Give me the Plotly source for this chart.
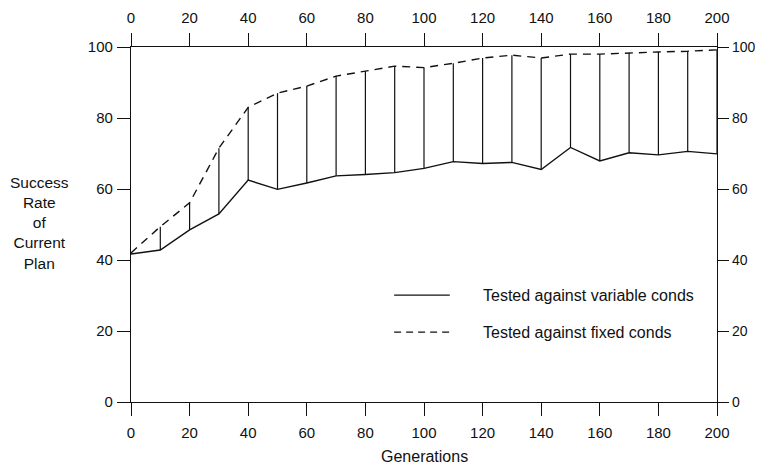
import plotly.graph_objects as go

generations = [0, 10, 20, 30, 40, 50, 60, 70, 80, 90, 100, 110, 120, 130, 140, 150, 160, 170, 180, 190, 200]
variable_conds = [41.7, 42.8, 48.5, 53.0, 62.5, 59.9, 61.7, 63.7, 64.1, 64.6, 65.8, 67.7, 67.2, 67.5, 65.5, 71.7, 67.9, 70.2, 69.6, 70.6, 69.9]
fixed_conds = [42.0, 49.4, 56.1, 71.5, 83.0, 87.0, 89.0, 91.8, 93.2, 94.6, 94.2, 95.4, 96.9, 97.7, 96.9, 98.0, 98.0, 98.4, 98.6, 98.8, 99.2]
x_ticks = [0, 20, 40, 60, 80, 100, 120, 140, 160, 180, 200]
y_ticks = [0, 20, 40, 60, 80, 100]
legend_labels = ["Tested against variable conds", "Tested against fixed conds"]

FONT = "Liberation Sans, Arial, Helvetica, sans-serif"
INK = "#111111"

fig = go.Figure()

# vertical connectors between the two series
vx, vy = [], []
for g, a, b in zip(generations, variable_conds, fixed_conds):
    vx += [g, g, None]
    vy += [a, b, None]
fig.add_trace(go.Scatter(x=vx, y=vy, mode="lines", line=dict(color=INK, width=1.2),
                         showlegend=False, hoverinfo="skip"))

fig.add_trace(go.Scatter(x=generations, y=variable_conds, mode="lines",
                         line=dict(color=INK, width=1.4), name=legend_labels[0], showlegend=False))
fig.add_trace(go.Scatter(x=generations, y=fixed_conds, mode="lines",
                         line=dict(color=INK, width=1.4, dash="8px,6px"), name=legend_labels[1], showlegend=False))
# invisible trace to activate top/right axes
fig.add_trace(go.Scatter(x=[generations[0]], y=[y_ticks[0]], xaxis="x2", yaxis="y2",
                         mode="markers", marker=dict(opacity=0), showlegend=False, hoverinfo="skip"))

axis_common = dict(showgrid=False, zeroline=False, showline=True, linecolor=INK, linewidth=1.3,
                   ticks="outside", tickwidth=1.3, tickcolor=INK, automargin=False)
font15 = dict(family=FONT, size=15, color=INK)

fig.update_layout(
    width=755, height=460,
    margin=dict(l=123, r=46, t=39, b=66),
    plot_bgcolor="white", paper_bgcolor="white",
    font=dict(family=FONT, size=15, color=INK),
    xaxis=dict(range=[0, 200], tickvals=x_ticks, ticklen=13, ticklabelstandoff=4,
               tickfont=font15, **axis_common),
    xaxis2=dict(range=[0, 200], tickvals=x_ticks, overlaying="x", side="top", anchor="y",
                ticklen=13, ticklabelstandoff=4, tickfont=font15, **axis_common),
    yaxis=dict(range=[0, 100], tickvals=y_ticks, ticklen=13, ticklabelstandoff=1,
               tickfont=font15, **axis_common),
    yaxis2=dict(range=[0, 100], tickvals=y_ticks, overlaying="y", side="right", anchor="x",
                ticklen=11, ticklabelstandoff=0, tickfont=dict(family=FONT, size=14, color=INK),
                **axis_common),
)

fig.add_annotation(text="Generations", xref="paper", yref="paper",
                   x=0.5, y=-(456.7 - 402) / 355, xanchor="center", yanchor="middle", showarrow=False,
                   font=dict(family=FONT, size=16, color=INK))

fig.add_annotation(text="Success<br>Rate<br>of<br>Current<br>Plan", xref="paper", yref="paper",
                   x=(39 - 131) / 586, y=(402 - 223) / 355, xanchor="center", yanchor="middle",
                   showarrow=False, font=dict(family=FONT, size=15.5, color=INK), align="center")

# custom legend
for i, (lab, dash) in enumerate(zip(legend_labels, ["solid", "7px,5px"])):
    yp = [0.301, 0.197][i]
    fig.add_shape(type="line", xref="paper", yref="paper", x0=0.449, x1=0.544, y0=yp, y1=yp,
                  line=dict(color=INK, width=1.3, dash=dash))
    fig.add_annotation(text=lab, xref="paper", yref="paper", x=0.597, y=yp, xanchor="left",
                       yanchor="middle", showarrow=False, font=dict(family=FONT, size=16, color=INK))

fig.write_html("out.html")
